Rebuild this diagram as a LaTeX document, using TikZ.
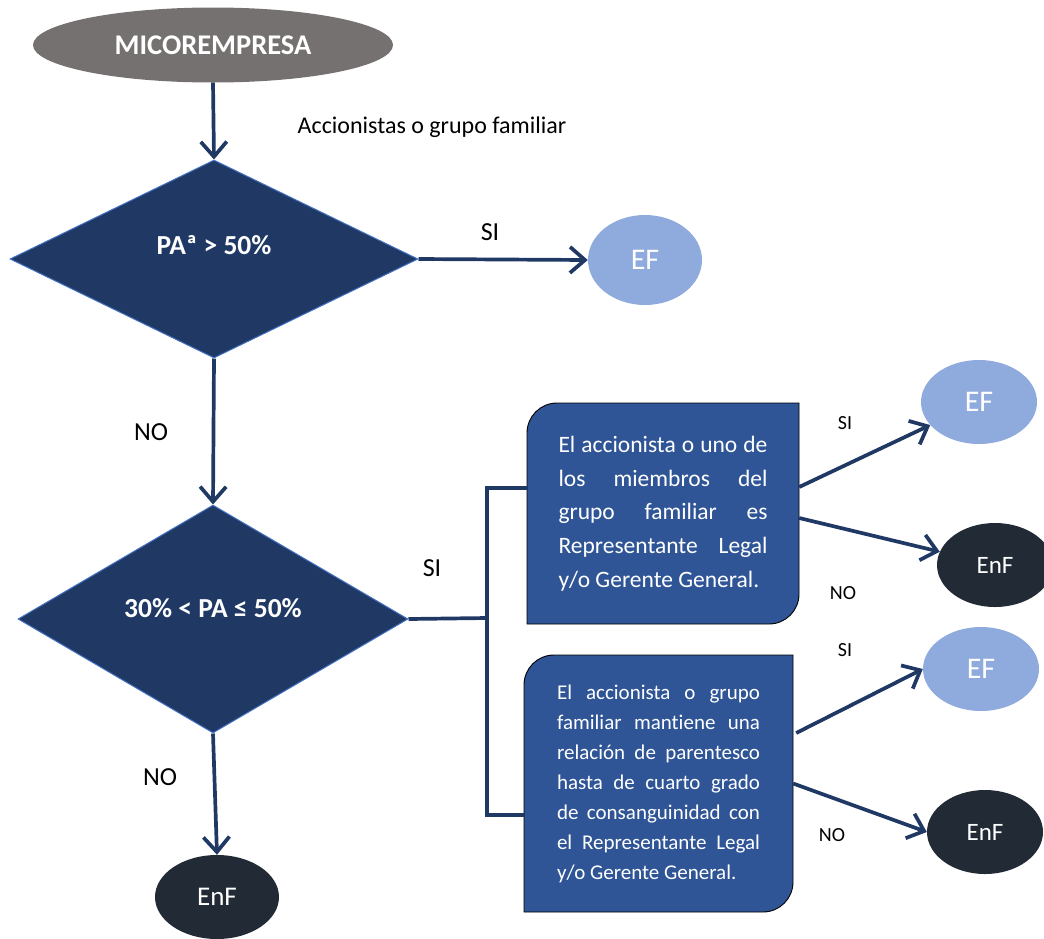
\documentclass[tikz,border=0pt]{standalone}
\usepackage{fontspec}
\setmainfont{Carlito}[Ligatures=NoCommon]
\usetikzlibrary{shapes.geometric,arrows.meta}
\definecolor{arrowblue}{HTML}{203864}
\definecolor{diafill}{HTML}{1F3864}
\definecolor{diaedge}{HTML}{4472C4}
\definecolor{efblue}{HTML}{8FAADC}
\definecolor{enfdark}{HTML}{222A35}
\definecolor{boxblue}{HTML}{2F5597}
\definecolor{micgray}{HTML}{767171}
\tikzset{
  ellbase/.style={ellipse, inner sep=0pt, text=white},
  efnode/.style={ellbase, fill=efblue, minimum width=116pt, minimum height=84pt, font=\fontsize{30}{36}\selectfont},
  enfnode/.style={ellbase, fill=enfdark, minimum width=116pt, minimum height=84pt, font=\fontsize{25}{30}\selectfont},
  decision/.style={diamond, fill=diafill, draw=diaedge, line width=1pt, inner sep=0pt, text=white, font=\bfseries\fontsize{27.5}{33}\selectfont},
  flow/.style={line width=3.7pt, draw=arrowblue, line join=miter, -{Straight Barb[length=15pt,width=26pt]}},
  link/.style={line width=3.7pt, draw=arrowblue},
  boxshape/.style={fill=boxblue, draw=black, line width=0.9pt},
  boxtext/.style={inner ysep=0pt, text=white, align=justify},
  biglbl/.style={font=\fontsize{26}{30}\selectfont},
  smalllbl/.style={font=\fontsize{20}{24}\selectfont},
}
\begin{document}
\begin{tikzpicture}[x=1pt,y=-1pt]
\useasboundingbox (0,0) rectangle (1044,938);
\clip (0,0) rectangle (1044,938);

% rounded-diagonal boxes
\path[boxshape] (527,624) -- (527,433) .. controls (527,416.4) and (540.4,403) .. (557,403)
  -- (799,403) -- (799,594) .. controls (799,610.6) and (785.6,624) .. (769,624) -- cycle;
\path[boxshape] (524,912) -- (524,685) .. controls (524,668.4) and (537.4,655) .. (554,655)
  -- (793,655) -- (793,882) .. controls (793,898.6) and (779.6,912) .. (763,912) -- cycle;

\node[ellbase, fill=micgray, minimum width=360pt, minimum height=75pt,
      font=\bfseries\fontsize{28.5}{34}\selectfont] (mic) at (213,45) {MICOREMPRESA};

\node[decision, minimum width=408pt, minimum height=198pt] (d1) at (214,259)
  {\raisebox{5pt}[0pt][0pt]{PAª > 50\%}};
\node[decision, minimum width=390pt, minimum height=228pt] (d2) at (213,619)
  {\raisebox{2pt}[0pt][0pt]{30\% < PA ≤ 50\%}};

\node[efnode, minimum width=114pt, minimum height=90pt] (ef1) at (645,260) {EF};
\node[efnode] (ef2) at (979,402) {EF};
\node[enfnode] (enf2) at (995,565) {EnF};
\node[efnode] (ef3) at (981,669) {EF};
\node[enfnode] (enf3) at (985,832) {EnF};
\node[enfnode, minimum width=124pt, font=\fontsize{27}{32}\selectfont] (enf4) at (217,897) {EnF};

\node[boxtext, text width=209pt, inner xsep=31.5pt, minimum height=221pt,
      font=\fontsize{23.5}{33.75}\selectfont] (b1) at (663,513.5)
  {\hyphenpenalty=10000 El accionista o uno de\linebreak los miembros del\linebreak grupo familiar es\linebreak Representante Legal\linebreak y/o Gerente General.};
\node[boxtext, text width=203pt, inner xsep=33pt, minimum height=257pt,
      font=\fontsize{21}{30}\selectfont] (b2) at (658.5,783.5)
  {\hyphenpenalty=10000 El accionista o grupo\linebreak familiar mantiene una\linebreak relación de parentesco\linebreak hasta de cuarto grado\linebreak de consanguinidad con\linebreak el Representante Legal\linebreak y/o Gerente General.};

% labels
\node[font=\fontsize{24}{28}\selectfont] (acc) at (432,127) {Accionistas o grupo familiar};
\node[biglbl] (si1) at (490,232) {SI};
\node[biglbl] (no1) at (151,432) {NO};
\node[biglbl] (si2) at (432,568) {SI};
\node[biglbl] (no2) at (160,777) {NO};
\node[smalllbl] (si3) at (845,423) {SI};
\node[smalllbl] (no3) at (843,593) {NO};
\node[smalllbl] (si4) at (845,650) {SI};
\node[smalllbl] (no4) at (832,835) {NO};

% connectors
\coordinate (j) at (487,618);
\draw[flow] (mic.south) -- (d1.north);
\draw[flow] (d1.east) -- (ef1.west);
\draw[flow] (d1.south) -- (d2.north);
\draw[link] (d2.east) -- (j);
\draw[link, line join=miter] ([yshift=25.5pt]b1.west) -| (j) |- ([yshift=-31.5pt]b2.west);
\draw[flow] (d2.south) -- (enf4.north);
\draw[flow] ([yshift=26.5pt]b1.east) -- (ef2);
\draw[flow] ([yshift=-4.5pt]b1.east) -- (enf2);
\draw[flow] ([yshift=50.5pt,xshift=3pt]b2.east) -- (ef3.west);
\draw[flow] (b2.east) -- (enf3.west);
\end{tikzpicture}
\end{document}
